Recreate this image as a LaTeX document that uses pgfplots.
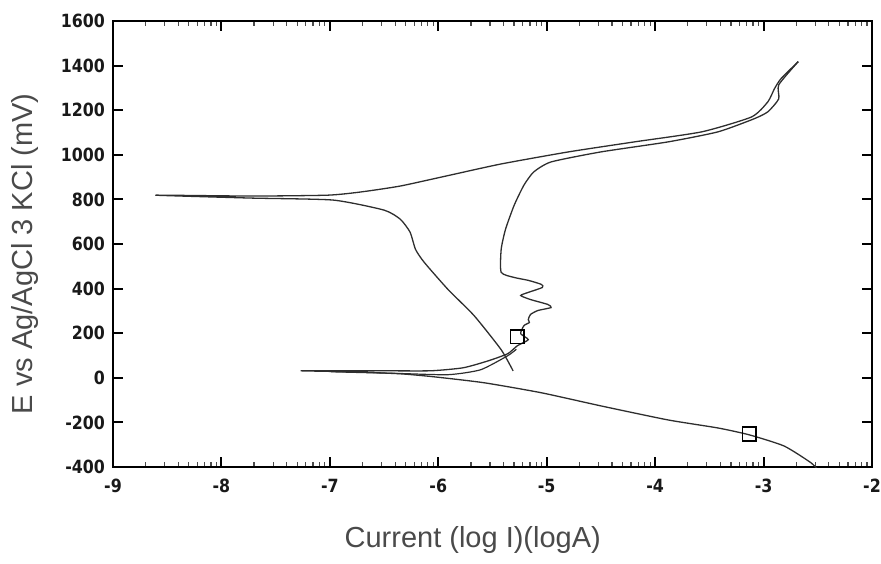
\documentclass[border=0pt]{standalone}
\usepackage{fontspec}
\usepackage{pgfplots}
\pgfplotsset{compat=1.18}
\newfontfamily\labelfont{Liberation Sans}
\newfontfamily\tickfont[FakeStretch=0.87]{DejaVu Sans}
\definecolor{labgray}{HTML}{4A4A4A}
\definecolor{curve}{HTML}{2E2E2E}
\begin{document}
\begin{tikzpicture}
\useasboundingbox (-56.5pt,-48pt) rectangle (384pt,233.5pt);
\begin{axis}[
  scale only axis,
  width=379.5pt, height=223pt,
  xmin=-9, xmax=-2, ymin=-400, ymax=1600,
  xtick={-9,-8,...,-2},
  ytick={-400,-200,...,1600},
  minor xtick={-8.699,-8.523,-8.398,-8.301,-8.222,-8.155,-8.097,-8.046,
    -7.699,-7.523,-7.398,-7.301,-7.222,-7.155,-7.097,-7.046,
    -6.699,-6.523,-6.398,-6.301,-6.222,-6.155,-6.097,-6.046,
    -5.699,-5.523,-5.398,-5.301,-5.222,-5.155,-5.097,-5.046,
    -4.699,-4.523,-4.398,-4.301,-4.222,-4.155,-4.097,-4.046,
    -3.699,-3.523,-3.398,-3.301,-3.222,-3.155,-3.097,-3.046,
    -2.699,-2.523,-2.398,-2.301,-2.222,-2.155,-2.097,-2.046},
  minor y tick num=0,
  major tick length=5pt,
  minor tick length=2.5pt,
  every major tick/.style={line width=1pt, black},
  every minor tick/.style={line width=0.6pt, black!70},
  axis line style={line width=1.2pt, black},
  tick align=inside,
  /pgf/number format/assume math mode=true,
  /pgf/number format/1000 sep={},
  ticklabel style={font=\tickfont\bfseries\fontsize{9.1}{10}\selectfont, text=black!90},
  xticklabel style={yshift=-2.5pt},
  yticklabel style={xshift=-0.5pt},
  xlabel={Current (log I)(logA)},
  ylabel={E vs Ag/AgCl 3 KCl (mV)},
  label style={font=\labelfont\fontsize{14.5}{17}\selectfont, text=labgray},
  x label style={at={(axis description cs:0.474,-0.164)}, anchor=center},
  y label style={at={(axis description cs:-0.116,0.478)}, anchor=center},
  clip=true,
]
% forward scan: cathodic branch, then anodic / passive / breakdown
\addplot[curve, line width=0.65pt, smooth, tension=0.35] coordinates {
 (-2.47,-428) (-2.56,-382) (-2.81,-306) (-3.13,-256) (-3.42,-225)
 (-3.88,-189) (-4.50,-126) (-5.05,-67) (-5.58,-22) (-6.04,4.5)
 (-6.35,18) (-6.81,27) (-7.27,31.5)
 (-6.53,31.5) (-6.07,31.5) (-5.77,45) (-5.54,76) (-5.36,108)
 (-5.27,144) (-5.17,171) (-5.24,198) (-5.21,234) (-5.16,248)
 (-5.17,261) (-5.15,284) (-5.08,302) (-4.96,315) (-4.99,329)
 (-5.15,351) (-5.24,369) (-5.17,383) (-5.04,405) (-5.05,419)
 (-5.17,437) (-5.30,450) (-5.42,473) (-5.42,576) (-5.38,666)
 (-5.30,774) (-5.21,864) (-5.12,923) (-4.96,968) (-4.50,1013)
 (-3.88,1058) (-3.42,1103) (-3.09,1161) (-2.96,1193) (-2.86,1251)
 (-2.86,1314) (-2.68,1418)
};
% reverse scan
\addplot[curve, line width=0.65pt, smooth, tension=0.35] coordinates {
 (-2.68,1418) (-2.84,1341) (-2.90,1296) (-2.96,1238) (-3.11,1170)
 (-3.57,1103) (-4.19,1058) (-4.80,1013) (-5.42,959) (-5.89,909)
 (-6.35,860) (-6.72,833) (-7.02,819) (-7.73,815) (-8.61,819)
 (-7.73,806) (-6.97,797) (-6.50,752) (-6.35,711) (-6.26,653)
 (-6.21,576) (-6.13,518) (-5.91,396) (-5.67,279) (-5.42,126)
 (-5.31,31)
};
% second trace near the corrosion potential
\addplot[curve, line width=0.6pt, smooth, tension=0.35] coordinates {
 (-6.99,27) (-6.40,20) (-5.91,14) (-5.61,36) (-5.36,99) (-5.28,128)
};
% square markers
\addplot[only marks, mark=square, mark size=3.4pt, mark options={line width=0.8pt, black}] coordinates {
 (-5.27,184) (-3.13,-252)
};
\end{axis}
\end{tikzpicture}
\end{document}
